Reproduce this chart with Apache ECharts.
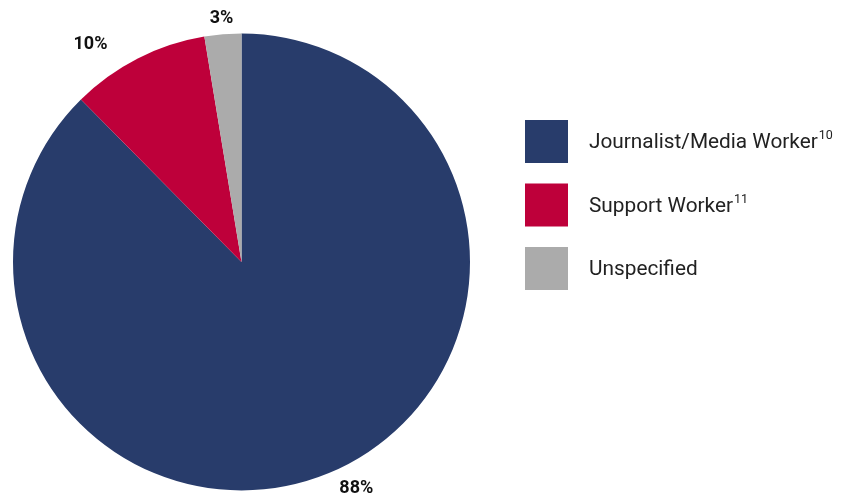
<!DOCTYPE html>
<html><head><meta charset="utf-8">
<script src="https://cdn.jsdelivr.net/npm/echarts@6/dist/echarts.min.js"></script>
<style>html,body{margin:0;padding:0;background:#fff}#c{width:849px;height:500px}</style>
</head><body><div id="c"></div>
<script>
const categories = ['Journalist/Media Worker', 'Support Worker', 'Unspecified'];
const superscripts = ['10', '11', ''];
const values = [87.6, 9.8, 2.6];
const valueLabels = ['88%', '10%', '3%'];
const colors = ['#283C6B', '#BE003A', '#ABABAB'];

const chart = echarts.init(document.getElementById('c'), null, {renderer: 'canvas'});
const FONT = 'Roboto';
chart.setOption({
  animation: false,
  legend: {
    orient: 'vertical',
    left: 520,
    top: 115,
    itemWidth: 43,
    itemHeight: 43,
    itemGap: 20.5,
    icon: 'rect',
    selectedMode: false,
    formatter: function (name) {
      const i = categories.indexOf(name);
      return superscripts[i] ? '{n|' + name + '}{s|' + superscripts[i] + '}' : '{n|' + name + '}';
    },
    textStyle: {
      padding: [0, 0, 0, 16],
      rich: {
        n: {fontFamily: FONT, fontSize: 20.8, color: '#222', verticalAlign: 'bottom', lineHeight: 24},
        s: {fontFamily: FONT, fontSize: 12.5, color: '#222', verticalAlign: 'top', lineHeight: 24, padding: [0, 0, 12, 1]}
      }
    }
  },
  series: [{
    type: 'pie',
    center: [241.5, 262],
    radius: [0, 228.5],
    startAngle: 90,
    clockwise: true,
    silent: true,
    data: categories.map((c, i) => ({name: c, value: values[i], itemStyle: {color: colors[i]}})),
    label: {
      show: true,
      position: 'outside',
      formatter: p => valueLabels[p.dataIndex],
      fontFamily: FONT,
      fontWeight: 'bold',
      fontSize: 18,
      color: '#111'
    },
    labelLine: {show: false, length: 16, length2: 0},
    labelLayout: function (p) {
      if (p.dataIndex === 2) return {align: 'center', dx: 5};
      if (p.dataIndex === 1) return {dx: -18};
      return {};
    },
    itemStyle: {borderWidth: 0}
  }]
});
</script></body></html>
